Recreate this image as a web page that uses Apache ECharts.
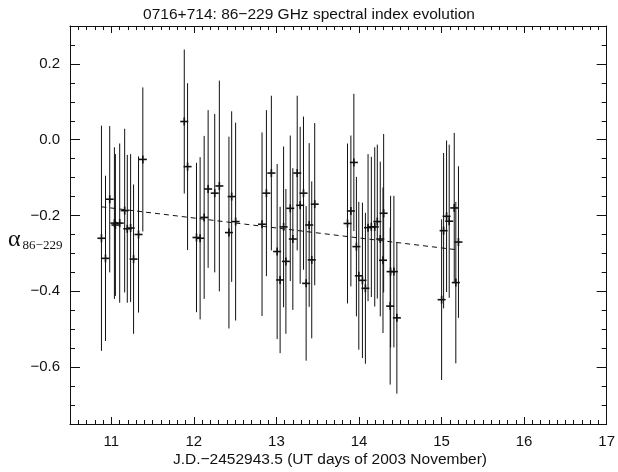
<!DOCTYPE html>
<html>
<head>
<meta charset="utf-8">
<script src="https://cdn.jsdelivr.net/npm/echarts@6/dist/echarts.min.js"></script>
<style>
  html, body { margin: 0; padding: 0; background: #fff; }
  #chart { width: 618px; height: 472px; }
</style>
</head>
<body>
<div id="chart"></div>
<script>
// Observation epochs (days of 2003 November, UT)
const days = [
  10.881, 10.930, 10.981, 11.038, 11.050, 11.102, 11.162, 11.194, 11.234, 11.270, 11.330, 11.382,
  11.884, 11.924, 12.032, 12.076, 12.125, 12.173, 12.253, 12.309, 12.425, 12.458, 12.506,
  12.826, 12.879, 12.939, 13.009, 13.045, 13.087, 13.115, 13.168, 13.199, 13.252, 13.288, 13.328, 13.360, 13.397, 13.428, 13.464,
  13.861, 13.902, 13.938, 13.969, 13.998, 14.042, 14.078, 14.110, 14.150, 14.191, 14.222, 14.258, 14.291, 14.299, 14.378, 14.383, 14.423, 14.459,
  15.001, 15.025, 15.061, 15.093, 15.154, 15.173, 15.205
];
// 86-229 GHz spectral index
const alpha = [
  -0.260, -0.313, -0.157, -0.220, -0.225, -0.220, -0.187, -0.235, -0.233, -0.315, -0.250, -0.052,
  0.048, -0.071, -0.258, -0.260, -0.205, -0.130, -0.141, -0.122, -0.245, -0.150, -0.216,
  -0.223, -0.141, -0.088, -0.295, -0.370, -0.230, -0.321, -0.181, -0.262, -0.088, -0.173, -0.141, -0.379, -0.225, -0.317, -0.170,
  -0.221, -0.188, -0.060, -0.282, -0.359, -0.371, -0.392, -0.232, -0.230, -0.230, -0.216, -0.262, -0.318, -0.194, -0.439, -0.348, -0.348, -0.470,
  -0.422, -0.240, -0.202, -0.215, -0.180, -0.377, -0.270
];
// 1-sigma uncertainty of the spectral index
const sigma = [
  0.297, 0.218, 0.193, 0.200, 0.187, 0.210, 0.216, 0.195, 0.195, 0.197, 0.206, 0.190,
  0.190, 0.220, 0.197, 0.214, 0.215, 0.208, 0.209, 0.278, 0.253, 0.225, 0.261,
  0.242, 0.219, 0.204, 0.231, 0.193, 0.212, 0.191, 0.192, 0.187, 0.204, 0.207, 0.202, 0.204, 0.216, 0.207, 0.214,
  0.211, 0.199, 0.181, 0.184, 0.195, 0.205, 0.199, 0.194, 0.185, 0.210, 0.203, 0.204, 0.192, 0.209, 0.207, 0.200, 0.200, 0.200,
  0.212, 0.205, 0.200, 0.202, 0.198, 0.213, 0.200
];
// Linear trend fitted to the spectral index
const fitDays = [10.88, 15.21];
const fitAlpha = [-0.177, -0.291];

// Axis ticks
const dayTicks = [11, 12, 13, 14, 15, 16, 17];
const alphaTicks = [-0.6, -0.4, -0.2, 0.0, 0.2];

const X_MIN = 10.5, X_MAX = 17, Y_MIN = -0.75, Y_MAX = 0.3;

const dayMinor = [];
for (let k = 106; k < 170; k++) dayMinor.push(k / 10);
const alphaMinor = [];
for (let k = -14; k <= 5; k++) alphaMinor.push(k * 0.05);

const FONT = '"Liberation Sans", Arial, sans-serif';
const INK = '#111';

function fmtAlpha(v) {
  const s = Math.abs(v) < 1e-9 ? '0.0' : v.toFixed(1);
  return s.replace('-', '\u2212');
}

function xAxisDef(pos, ticks, len, showLine, showLabel) {
  return {
    type: 'value', position: pos, min: X_MIN, max: X_MAX,
    axisLine: { show: showLine, onZero: false, lineStyle: { color: INK, width: 1 } },
    axisTick: { show: true, inside: true, length: len, customValues: ticks, lineStyle: { color: INK, width: 1 } },
    axisLabel: showLabel ? { show: true, customValues: dayTicks, margin: 10, fontSize: 15, fontFamily: FONT, color: INK }
                         : { show: false },
    splitLine: { show: false }
  };
}
function yAxisDef(pos, ticks, len, showLine, showLabel) {
  return {
    type: 'value', position: pos, min: Y_MIN, max: Y_MAX,
    axisLine: { show: showLine, onZero: false, lineStyle: { color: INK, width: 1 } },
    axisTick: { show: true, inside: true, length: len, customValues: ticks, lineStyle: { color: INK, width: 1 } },
    axisLabel: showLabel ? { show: true, customValues: alphaTicks, margin: 10, fontSize: 15, fontFamily: FONT, color: INK, formatter: fmtAlpha }
                         : { show: false },
    splitLine: { show: false }
  };
}

const chart = echarts.init(document.getElementById('chart'), null, { renderer: 'canvas' });

chart.setOption({
  animation: false,
  backgroundColor: '#fff',
  title: {
    text: '0716+714: 86\u2212229 GHz spectral index evolution',
    left: 'center', top: 2,
    textStyle: { fontSize: 15.5, fontWeight: 'normal', fontFamily: FONT, color: INK }
  },
  grid: { left: 70, right: 8, top: 26, bottom: 48 },
  xAxis: [
    xAxisDef('bottom', dayTicks, 7, true, true),
    xAxisDef('top', dayTicks, 7, true, false),
    xAxisDef('bottom', dayMinor, 4, false, false),
    xAxisDef('top', dayMinor, 4, false, false)
  ],
  yAxis: [
    yAxisDef('left', alphaTicks, 10, true, true),
    yAxisDef('right', alphaTicks, 10, true, false),
    yAxisDef('left', alphaMinor, 5, false, false),
    yAxisDef('right', alphaMinor, 5, false, false)
  ],
  graphic: [
    {
      type: 'text', left: 8, top: 228,
      style: {
        text: '{a|\u03b1}{s|86\u2212229}',
        rich: {
          a: { fontFamily: '"Liberation Serif", "DejaVu Serif", serif', fontSize: 24, fill: INK, verticalAlign: 'bottom' },
          s: { fontFamily: '"Liberation Serif", "DejaVu Serif", serif', fontSize: 13, fill: INK, padding: [6, 0, 0, 2], verticalAlign: 'bottom' }
        }
      }
    },
    {
      type: 'text', x: 330, y: 452,
      style: {
        text: 'J.D.\u22122452943.5 (UT days of 2003 November)',
        fontFamily: FONT, fontSize: 15.5, fill: INK, align: 'center', verticalAlign: 'top'
      }
    }
  ],
  series: [
    {
      type: 'line',
      xAxisIndex: 0, yAxisIndex: 0,
      data: fitDays.map((d, i) => [d, fitAlpha[i]]),
      symbol: 'none',
      lineStyle: { color: INK, width: 1, type: [5, 4] },
      z: 3
    },
    {
      type: 'custom',
      xAxisIndex: 0, yAxisIndex: 0,
      data: days.map((d, i) => [d, alpha[i], sigma[i]]),
      encode: { x: 0, y: 1 },
      z: 4,
      renderItem: function (params, api) {
        const x = api.value(0), y = api.value(1), e = api.value(2);
        const p = api.coord([x, y]);
        const hi = api.coord([x, y + e]);
        const lo = api.coord([x, y - e]);
        return {
          type: 'group',
          children: [
            { type: 'line', shape: { x1: p[0], y1: hi[1], x2: p[0], y2: lo[1] }, style: { stroke: INK, lineWidth: 1 } },
            { type: 'line', shape: { x1: p[0] - 4, y1: p[1], x2: p[0] + 4, y2: p[1] }, style: { stroke: INK, lineWidth: 1.6 } },
            { type: 'line', shape: { x1: p[0], y1: p[1] - 4, x2: p[0], y2: p[1] + 4 }, style: { stroke: INK, lineWidth: 1.6 } }
          ]
        };
      }
    }
  ]
});
</script>
</body>
</html>
